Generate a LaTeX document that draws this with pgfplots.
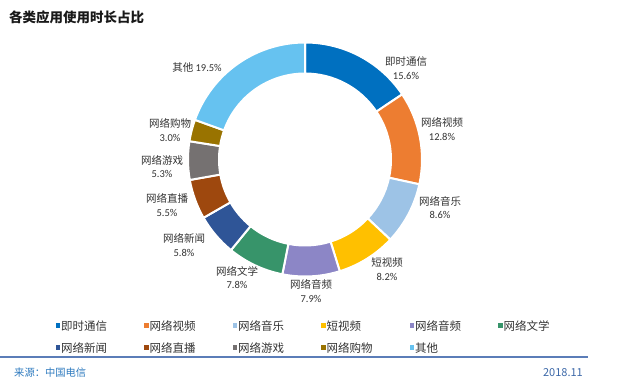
\documentclass[border=0pt]{standalone}
\usepackage{pgfplots}
\pgfplotsset{compat=1.18}
\usepackage{pgfplotstable}
\usepackage{fontspec}
\setmainfont{Carlito}
\newfontfamily\cjk{Noto Sans CJK SC}

\definecolor{c0}{HTML}{0070C0}
\definecolor{c1}{HTML}{ED7D31}
\definecolor{c2}{HTML}{9DC3E6}
\definecolor{c3}{HTML}{FFC000}
\definecolor{c4}{HTML}{8C86C6}
\definecolor{c5}{HTML}{37946A}
\definecolor{c6}{HTML}{2F5597}
\definecolor{c7}{HTML}{9E480E}
\definecolor{c8}{HTML}{757171}
\definecolor{c9}{HTML}{997300}
\definecolor{c10}{HTML}{66C2F0}
\definecolor{labelc}{HTML}{333333}
\definecolor{srcc}{HTML}{2F7BBF}
\definecolor{datec}{HTML}{3C68A8}
\definecolor{linec}{HTML}{5B7DB8}

% share of usage time (%), label position (x, y in picture units), label mode
\pgfplotstableread{
name value lx ly mode
即时通信 15.6 406 321 2
网络视频 12.8 442 260 2
网络音乐 8.6 440 181.5 2
短视频 8.2 387 120 2
网络音频 7.9 311 98 2
网络文学 7.8 237 111.5 2
网络新闻 5.8 184 144 2
网络直播 5.5 167 184 2
网络游戏 5.3 162 222.5 2
网络购物 3.0 170 259 2
其他 19.5 197 321 1
}\donut

\begin{document}
\begin{tikzpicture}
\begin{axis}[
  x=1pt, y=1pt,
  xmin=0, xmax=629, ymin=0, ymax=389,
  enlargelimits=false,
  hide axis, clip=false,
  legend image code/.code={\fill[#1] (0pt,-0.3pt) rectangle (3.6pt,3.3pt);},
  legend columns=6,
  legend style={
    at={(axis cs:55.5,69.5)}, anchor=north west,
    draw=none, fill=none, inner sep=0pt,
    font=\cjk\fontsize{11.5}{13}\selectfont,
    text=labelc,
    row sep=7.5pt,
    nodes={inner sep=1.5pt, text height=9pt, text depth=2.5pt},
    /tikz/every even column/.append style={column sep=1.5pt},
    /tikz/every odd column/.append style={column sep=0pt},
  },
]
\def\cx{305}\def\cy{229.5}\def\ro{117}\def\ri{86}
\def\cum{0}
\pgfplotsforeachungrouped \i in {0,...,10}{%
  \pgfplotstablegetelem{\i}{value}\of\donut \let\v=\pgfplotsretval
  \pgfplotstablegetelem{\i}{lx}\of\donut \let\lx=\pgfplotsretval
  \pgfplotstablegetelem{\i}{ly}\of\donut \let\ly=\pgfplotsretval
  \pgfplotstablegetelem{\i}{mode}\of\donut \let\md=\pgfplotsretval
  \pgfplotstablegetelem{\i}{name}\of\donut \let\nm=\pgfplotsretval
  \pgfmathsetmacro\s{90-3.6*\cum}%
  \pgfmathsetmacro\e{90-3.6*(\cum+\v)}%
  \pgfmathsetmacro\cum{\cum+\v}%
  \pgfmathsetmacro\xa{\cx+\ro*cos(\s)}%
  \pgfmathsetmacro\ya{\cy+\ro*sin(\s)}%
  \pgfmathsetmacro\xb{\cx+\ri*cos(\e)}%
  \pgfmathsetmacro\yb{\cy+\ri*sin(\e)}%
  \ifnum\md=2
    \edef\lab{{\noexpand\cjk \nm}\noexpand\\\v\noexpand\%}%
  \else
    \edef\lab{{\noexpand\cjk \nm} \v\noexpand\%}%
  \fi
  \edef\cmd{%
    \noexpand\fill[c\i, draw=white, line width=2pt]
      (axis cs:\xa,\ya) arc[start angle=\s, end angle=\e, radius=\ro pt]
      -- (axis cs:\xb,\yb) arc[start angle=\e, end angle=\s, radius=\ri pt] -- cycle;
    \noexpand\node[align=center, text=labelc, inner sep=0pt,
      font=\noexpand\fontsize{10.5}{13.5}\noexpand\selectfont]
      at (axis cs:\lx,\ly) {\expandafter\unexpanded\expandafter{\lab}};
  }%
  \cmd
}

\addlegendimage{c0}\addlegendentry{\makebox[80pt][l]{即时通信}}
\addlegendimage{c1}\addlegendentry{\makebox[80pt][l]{网络视频}}
\addlegendimage{c2}\addlegendentry{\makebox[80pt][l]{网络音乐}}
\addlegendimage{c3}\addlegendentry{\makebox[80pt][l]{短视频}}
\addlegendimage{c4}\addlegendentry{\makebox[80pt][l]{网络音频}}
\addlegendimage{c5}\addlegendentry{\makebox[60pt][l]{网络文学}}
\addlegendimage{c6}\addlegendentry{\makebox[80pt][l]{网络新闻}}
\addlegendimage{c7}\addlegendentry{\makebox[80pt][l]{网络直播}}
\addlegendimage{c8}\addlegendentry{\makebox[80pt][l]{网络游戏}}
\addlegendimage{c9}\addlegendentry{\makebox[80pt][l]{网络购物}}
\addlegendimage{c10}\addlegendentry{\makebox[80pt][l]{其他}}

\node[anchor=west, inner sep=0pt, font=\cjk\bfseries\fontsize{13.5}{15}\selectfont, text=black!90]
  at (axis cs:9,372) {各类应用使用时长占比};
\draw[linec, line width=1.6pt] (axis cs:0,32) -- (axis cs:588,32);
\node[anchor=west, inner sep=0pt, font=\cjk\fontsize{10.3}{12}\selectfont, text=srcc]
  at (axis cs:14,16) {来源：中国电信};
\node[anchor=east, inner sep=0pt, font=\cjk\fontsize{11}{12}\selectfont, text=datec]
  at (axis cs:583,16) {2018.11};
\end{axis}
\pgfresetboundingbox
\path[use as bounding box] (0,0) rectangle (629pt,389pt);
\end{tikzpicture}
\end{document}
